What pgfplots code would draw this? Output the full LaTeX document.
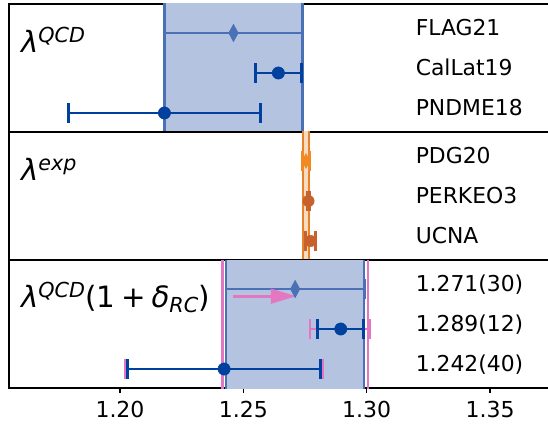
\documentclass[border=0pt]{standalone}
\usepackage{fontspec}
\setmainfont{DejaVu Sans}
\usepackage{pgfplots}
\pgfplotsset{compat=1.18}
\usetikzlibrary{arrows.meta}
\definecolor{dblue}{HTML}{0041A0}
\definecolor{mblue}{HTML}{4A70B5}
\definecolor{bfill}{HTML}{B4C4E0}
\definecolor{orline}{HTML}{E8822A}
\definecolor{orfill}{HTML}{F9DCC0}
\definecolor{ordia}{HTML}{F08A24}
\definecolor{ordot}{HTML}{C8622C}
\definecolor{tpink}{HTML}{E377C2}
\pgfplotsset{
  panel/.style={
    scale only axis, width=405.375pt, height=96pt,
    xmin=1.155, xmax=1.37412, ymin=-0.475, ymax=2.725,
    ytick=\empty, axis line style={black, line width=0.9pt},
    anchor=north west,
  },
  ebar/.style={only marks, error bars/x dir=both, error bars/x explicit,
    error bars/error mark=|,
    error bars/error bar style={line width=2.1pt, #1},
    error bars/error mark options={line width=2.1pt, #1, mark size=7.5pt}},
}
\tikzset{
  lab/.style={anchor=base west, font=\fontsize{16.4}{16.4}\selectfont},
  big/.style={anchor=base west, font=\fontsize{22}{22}\selectfont},
}
\newcommand{\sups}[1]{\raisebox{7.5pt}{\fontsize{15.5}{15.5}\selectfont\itshape #1}}
\newcommand{\subs}[1]{\raisebox{-3.75pt}{\fontsize{15.5}{15.5}\selectfont\itshape #1}}
\begin{document}
\begin{tikzpicture}
% ---------- top panel ----------
\begin{axis}[panel, at={(6.75pt,-3pt)}, xtick=\empty]
\addplot[draw=none, fill=bfill, forget plot] coordinates {(1.218,-1)(1.274,-1)(1.274,3)(1.218,3)} -- cycle;
\addplot[mblue, line width=1.9pt, forget plot] coordinates {(1.218,-1)(1.218,3)};
\addplot[mblue, line width=1.9pt, forget plot] coordinates {(1.274,-1)(1.274,3)};
\addplot[ebar=mblue, mark=diamond*, mark size=6.5pt, mark options={mblue, xscale=0.72}] coordinates {(1.246,2) +- (0.028,0)};
\addplot[ebar=dblue, mark=*, mark size=4.6pt, mark options={dblue}] coordinates {(1.2642,1) +- (0.0093,0)};
\addplot[ebar=dblue, mark=*, mark size=4.6pt, mark options={dblue}] coordinates {(1.218,0) +- (0.039,0)};
\node[lab] at (axis cs:1.318,1.93) {FLAG21};
\node[lab] at (axis cs:1.318,0.93) {CalLat19};
\node[lab] at (axis cs:1.318,-0.07) {PNDME18};
\node[big] at (axis cs:1.158,1.5) {\itshape λ\sups{QCD}};
\end{axis}
% ---------- middle panel ----------
\begin{axis}[panel, at={(6.75pt,-99pt)}, xtick=\empty]
\addplot[draw=none, fill=orfill, forget plot] coordinates {(1.2741,-1)(1.2767,-1)(1.2767,3)(1.2741,3)} -- cycle;
\addplot[orline, line width=1.9pt, forget plot] coordinates {(1.2741,-1)(1.2741,3)};
\addplot[orline, line width=1.9pt, forget plot] coordinates {(1.2767,-1)(1.2767,3)};
\addplot[ebar=ordia, mark=diamond*, mark size=5.5pt, mark options={ordia, xscale=0.72}] coordinates {(1.2754,2) +- (0.0013,0)};
\addplot[ebar=ordot, mark=*, mark size=4.3pt, mark options={ordot}] coordinates {(1.27641,1) +- (0.00056,0)};
\addplot[ebar=ordot, mark=*, mark size=4.3pt, mark options={ordot}] coordinates {(1.2772,0) +- (0.0020,0)};
\node[lab] at (axis cs:1.318,1.93) {PDG20};
\node[lab] at (axis cs:1.318,0.93) {PERKEO3};
\node[lab] at (axis cs:1.318,-0.07) {UCNA};
\node[big] at (axis cs:1.158,1.52) {\itshape λ\sups{exp}};
\end{axis}
% ---------- bottom panel ----------
\begin{axis}[panel, at={(6.75pt,-195pt)},
  xtick={1.20,1.25,1.30,1.35},
  xticklabels={1.20,1.25,1.30,1.35},
  tick align=outside, major tick length=3.75pt,
  tick style={black, line width=0.9pt},
  xtick pos=bottom,
  ticklabel style={font=\fontsize{16.5}{16.5}\selectfont},
  xticklabel style={yshift=-2.5pt},
  /pgf/number format/assume math mode=true]
\addplot[draw=none, fill=bfill, forget plot] coordinates {(1.243,-1)(1.299,-1)(1.299,3)(1.243,3)} -- cycle;
\addplot[mblue, line width=1.3pt, forget plot] coordinates {(1.243,-1)(1.243,3)};
\addplot[mblue, line width=1.3pt, forget plot] coordinates {(1.299,-1)(1.299,3)};
\addplot[tpink, line width=2pt, forget plot] coordinates {(1.2415,-1)(1.2415,3)};
\addplot[tpink, line width=2pt, forget plot] coordinates {(1.3005,-1)(1.3005,3)};
\addplot[ebar=mblue, mark=diamond*, mark size=6.5pt, mark options={mblue, xscale=0.72}] coordinates {(1.271,2) +- (0.028,0)};
\addplot[tpink, line width=2pt, -{Triangle[length=19pt, width=11pt]}] coordinates {(1.2459,1.82)(1.2714,1.82)};
\addplot[ebar=tpink, mark=none] coordinates {(1.289,1) +- (0.012,0)};
\addplot[ebar=dblue, mark=*, mark size=4.6pt, mark options={dblue}] coordinates {(1.2895,1) +- (0.0093,0)};
\addplot[ebar=tpink, mark=none] coordinates {(1.242,0) +- (0.040,0)};
\addplot[ebar=dblue, mark=*, mark size=4.6pt, mark options={dblue}] coordinates {(1.2422,0) +- (0.039,0)};
\node[lab] at (axis cs:1.318,1.93) {1.271(30)};
\node[lab] at (axis cs:1.318,0.93) {1.289(12)};
\node[lab] at (axis cs:1.318,-0.07) {1.242(40)};
\node[big] at (axis cs:1.158,1.55) {{\itshape λ}\sups{QCD}(1\hspace{0.2em}+\hspace{0.2em}{\itshape δ}\subs{RC})};
\end{axis}
\pgfresetboundingbox
\path[use as bounding box] (0pt,0pt) rectangle (411pt,-323.25pt);
\end{tikzpicture}
\end{document}
